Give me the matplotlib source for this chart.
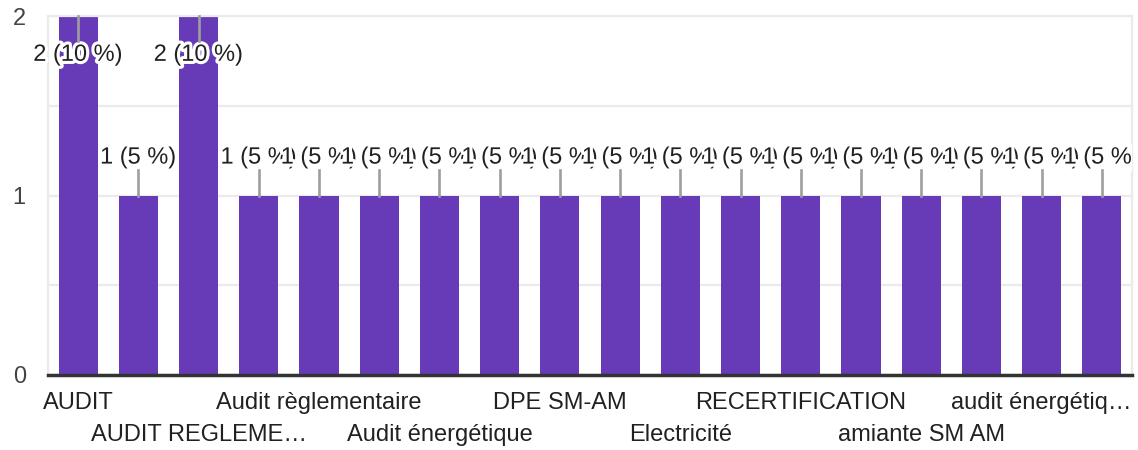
import matplotlib
matplotlib.use("Agg")
import matplotlib.pyplot as plt
import matplotlib.patheffects as pe
from matplotlib.patches import Rectangle

PURPLE, LEADER, TXT, AXIS, GRID = "#673ab7", "#9e9e9e", "#212121", "#333333", "#ebebeb"

counts = [2, 1, 2, 1, 1, 1, 1, 1, 1, 1, 1, 1, 1, 1, 1, 1, 1, 1]
pcts = [10, 5, 10, 5, 5, 5, 5, 5, 5, 5, 5, 5, 5, 5, 5, 5, 5, 5]
tick_pos = [0, 2, 4, 6, 8, 10, 12, 14, 16]
tick_labels = ["AUDIT", "AUDIT REGLEME…", "Audit règlementaire",
               "Audit énergétique", "DPE SM-AM", "Electricité",
               "RECERTIFICATION", "amiante SM AM", "audit énergétiq…"]

plt.rcParams.update({"font.family": ["Liberation Sans", "DejaVu Sans"],
                     "font.size": 17})

fig = plt.figure(figsize=(11.38, 4.5), dpi=100)
ax_rect = [0.0422, 0.1667, 0.9525, 0.7977]
ax = fig.add_axes(ax_rect)
x = list(range(len(counts)))
ax.bar(x, counts, width=0.65, color=PURPLE, zorder=2)

ymax = 2
ax.set_ylim(0, ymax)
ax.set_xlim(-0.5, len(counts) - 0.5)
ax.set_yticks([0, 0.5, 1, 1.5, 2])
ax.set_yticklabels(["0", "", "1", "", "2"], color="#444444")
ax.tick_params(axis="y", length=0, pad=16)
ax.yaxis.grid(True, color=GRID, lw=1.6, zorder=0)

ax.set_xticks(tick_pos)
ax.set_xticklabels([t if i % 2 == 0 else "\n" + t
                    for i, t in enumerate(tick_labels)], color=TXT)
for lab in ax.get_xticklabels():
    lab.set_linespacing(1.6)
ax.tick_params(axis="x", length=0, pad=12)

for s in ("left", "right", "top"):
    ax.spines[s].set_color(GRID)
    ax.spines[s].set_linewidth(1.6)
ax.spines["bottom"].set_color(AXIS)
ax.spines["bottom"].set_linewidth(2.5)
ax.spines["bottom"].set_zorder(5)

# labels may spill left of the plot, but are cut at its right edge
clip = Rectangle((0, 0), ax_rect[0] + ax_rect[2], 1, transform=fig.transFigure)

halo = [pe.withStroke(linewidth=4.5, foreground="white")]
lead = 0.14
for xi, c, p in zip(x, counts, pcts):
    lbl = f"{c} ({p} %)"
    if c >= ymax:
        ax.plot([xi, xi], [c, c - lead], color=LEADER, lw=1.9, zorder=4,
                clip_on=False)
        t = ax.text(xi, c - lead - 0.015, lbl, ha="center", va="top",
                    color=TXT, path_effects=halo, zorder=3)
    else:
        ax.plot([xi, xi], [c, c + lead], color=LEADER, lw=1.9, zorder=4)
        t = ax.text(xi, c + lead + 0.01, lbl, ha="center", va="bottom",
                    color=TXT, path_effects=halo, zorder=3)
    t.set_clip_path(clip)
    t.set_clip_on(True)

fig.savefig("out.png")
